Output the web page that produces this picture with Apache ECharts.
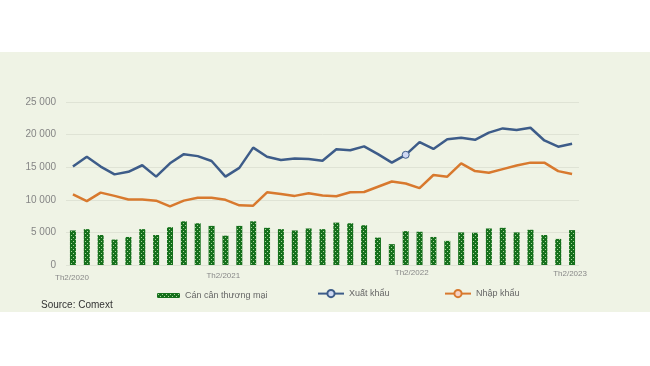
<!DOCTYPE html>
<html><head><meta charset="utf-8">
<script src="https://cdn.jsdelivr.net/npm/echarts@6/dist/echarts.min.js"></script>
<style>html,body{margin:0;padding:0;background:#fff}#c{width:650px;height:366px}</style>
</head><body><div id="c"></div>
<script>
const categories = ['Th2/2020','Th3/2020','Th4/2020','Th5/2020','Th6/2020','Th7/2020','Th8/2020','Th9/2020','Th10/2020','Th11/2020','Th12/2020','Th1/2021',
'Th2/2021','Th3/2021','Th4/2021','Th5/2021','Th6/2021','Th7/2021','Th8/2021','Th9/2021','Th10/2021','Th11/2021','Th12/2021','Th1/2022',
'Th2/2022','Th3/2022','Th4/2022','Th5/2022','Th6/2022','Th7/2022','Th8/2022','Th9/2022','Th10/2022','Th11/2022','Th12/2022','Th1/2023','Th2/2023'];
const shownTicks = ['Th2/2020','Th2/2021','Th2/2022','Th2/2023'];
const balance = [5300,5500,4600,3900,4300,5500,4600,5800,6700,6400,6000,4500,6000,6700,5700,5500,5300,5600,5500,6500,6400,6100,4200,3200,5200,5100,4300,3700,5000,4950,5600,5700,5000,5400,4600,4000,5350];
const exports_ = [15100,16600,15100,13900,14300,15300,13550,15600,17000,16700,15950,13550,14900,18000,16600,16100,16350,16250,16000,17750,17600,18200,17000,15700,16900,18850,17800,19300,19500,19200,20300,20950,20700,21050,19100,18150,18600];
const imports_ = [10840,9800,11100,10600,10050,10050,9870,9000,9870,10300,10300,10000,9150,9100,11150,10900,10600,11000,10650,10550,11150,11200,12000,12800,12500,11800,13800,13550,15600,14400,14150,14700,15250,15700,15700,14400,13950];
const yTicks = [0,5000,10000,15000,20000,25000];
const seriesNames = ['Cán cân thương mại','Xuất khẩu','Nhập khẩu'];
const highlightIndex = 24;

const FONT = "'Liberation Sans Narrow','Liberation Sans',sans-serif";
const cv = document.createElement('canvas'); cv.width = 4; cv.height = 4;
const cx = cv.getContext('2d');
cx.fillStyle = '#15701c'; cx.fillRect(0,0,4,4);
cx.fillStyle = '#a9d79c'; cx.fillRect(1,1,1,1); cx.fillRect(3,3,1,1);
const pattern = {image: cv, repeat: 'repeat'};

const chart = echarts.init(document.getElementById('c'), null, {renderer:'canvas'});
chart.setOption({
  backgroundColor: '#fff',
  animation: false,
  graphic: [
    {type:'rect', left:0, top:52, shape:{width:650, height:260}, style:{fill:'#eff3e5'}, z:-10},
    {type:'text', left:41, top:300, style:{text:'Source: Comext', fill:'#333', font:"10px " + FONT}}
  ],
  grid: {left:66, right:71, top:102, height:163},
  legend: [
    {data:[seriesNames[0]], left:152, top:286, itemWidth:23, itemHeight:5, itemGap:5,
     textStyle:{color:'#666', fontSize:9, fontFamily:FONT}},
    {data:[seriesNames[1]], left:312, top:284, itemWidth:26, itemHeight:9, itemGap:5,
     textStyle:{color:'#666', fontSize:9, fontFamily:FONT}},
    {data:[seriesNames[2]], left:439, top:284, itemWidth:26, itemHeight:9, itemGap:5,
     textStyle:{color:'#666', fontSize:9, fontFamily:FONT}}
  ],
  xAxis: {
    type:'category', data:categories, boundaryGap:true,
    axisLine:{show:false}, axisTick:{show:false},
    axisLabel:{interval:0, margin:4, color:'#888', fontSize:8, fontFamily:FONT,
      formatter: function(v){
        if (v === shownTicks[0]) return '{a|' + v + '}';
        if (v === shownTicks[1]) return '{b|' + v + '}';
        if (v === shownTicks[2]) return '{c|' + v + '}';
        if (v === shownTicks[3]) return '{d|' + v + '}';
        return '';
      },
      rich:{
        a:{color:'#888', fontSize:8, fontFamily:FONT, padding:[5,2,0,0]},
        b:{color:'#888', fontSize:8, fontFamily:FONT, padding:[3,32,0,0]},
        c:{color:'#888', fontSize:8, fontFamily:FONT, padding:[0,0,0,12]},
        d:{color:'#888', fontSize:8, fontFamily:FONT, padding:[1,4,0,0]}
      }
    }
  },
  yAxis: {
    type:'value', min:yTicks[0], max:yTicks[yTicks.length-1], interval:5000,
    axisLine:{show:false}, axisTick:{show:false},
    splitLine:{lineStyle:{color:'#dfe3d5', width:1}},
    axisLabel:{color:'#858585', fontSize:10, fontFamily:FONT, margin:10,
      formatter: v => String(v).replace(/\B(?=(\d{3})+(?!\d))/g, ' ')}
  },
  series: [
    {name:seriesNames[0], type:'bar', data:balance, barWidth:6,
     itemStyle:{color:pattern}},
    {name:seriesNames[1], type:'line', data:exports_, symbol:'circle',
     symbolSize:(v,p) => p.dataIndex === highlightIndex ? 7 : 0, showSymbol:true,
     lineStyle:{color:'#3d5c89', width:2.5},
     itemStyle:{color:'#cfd9f3', borderColor:'#3d5c89', borderWidth:1}},
    {name:seriesNames[2], type:'line', data:imports_, symbol:'circle', symbolSize:0, showSymbol:true,
     lineStyle:{color:'#d8792e', width:2.5},
     itemStyle:{color:'#f6d2c6', borderColor:'#d8792e', borderWidth:1}}
  ]
});
</script></body></html>
